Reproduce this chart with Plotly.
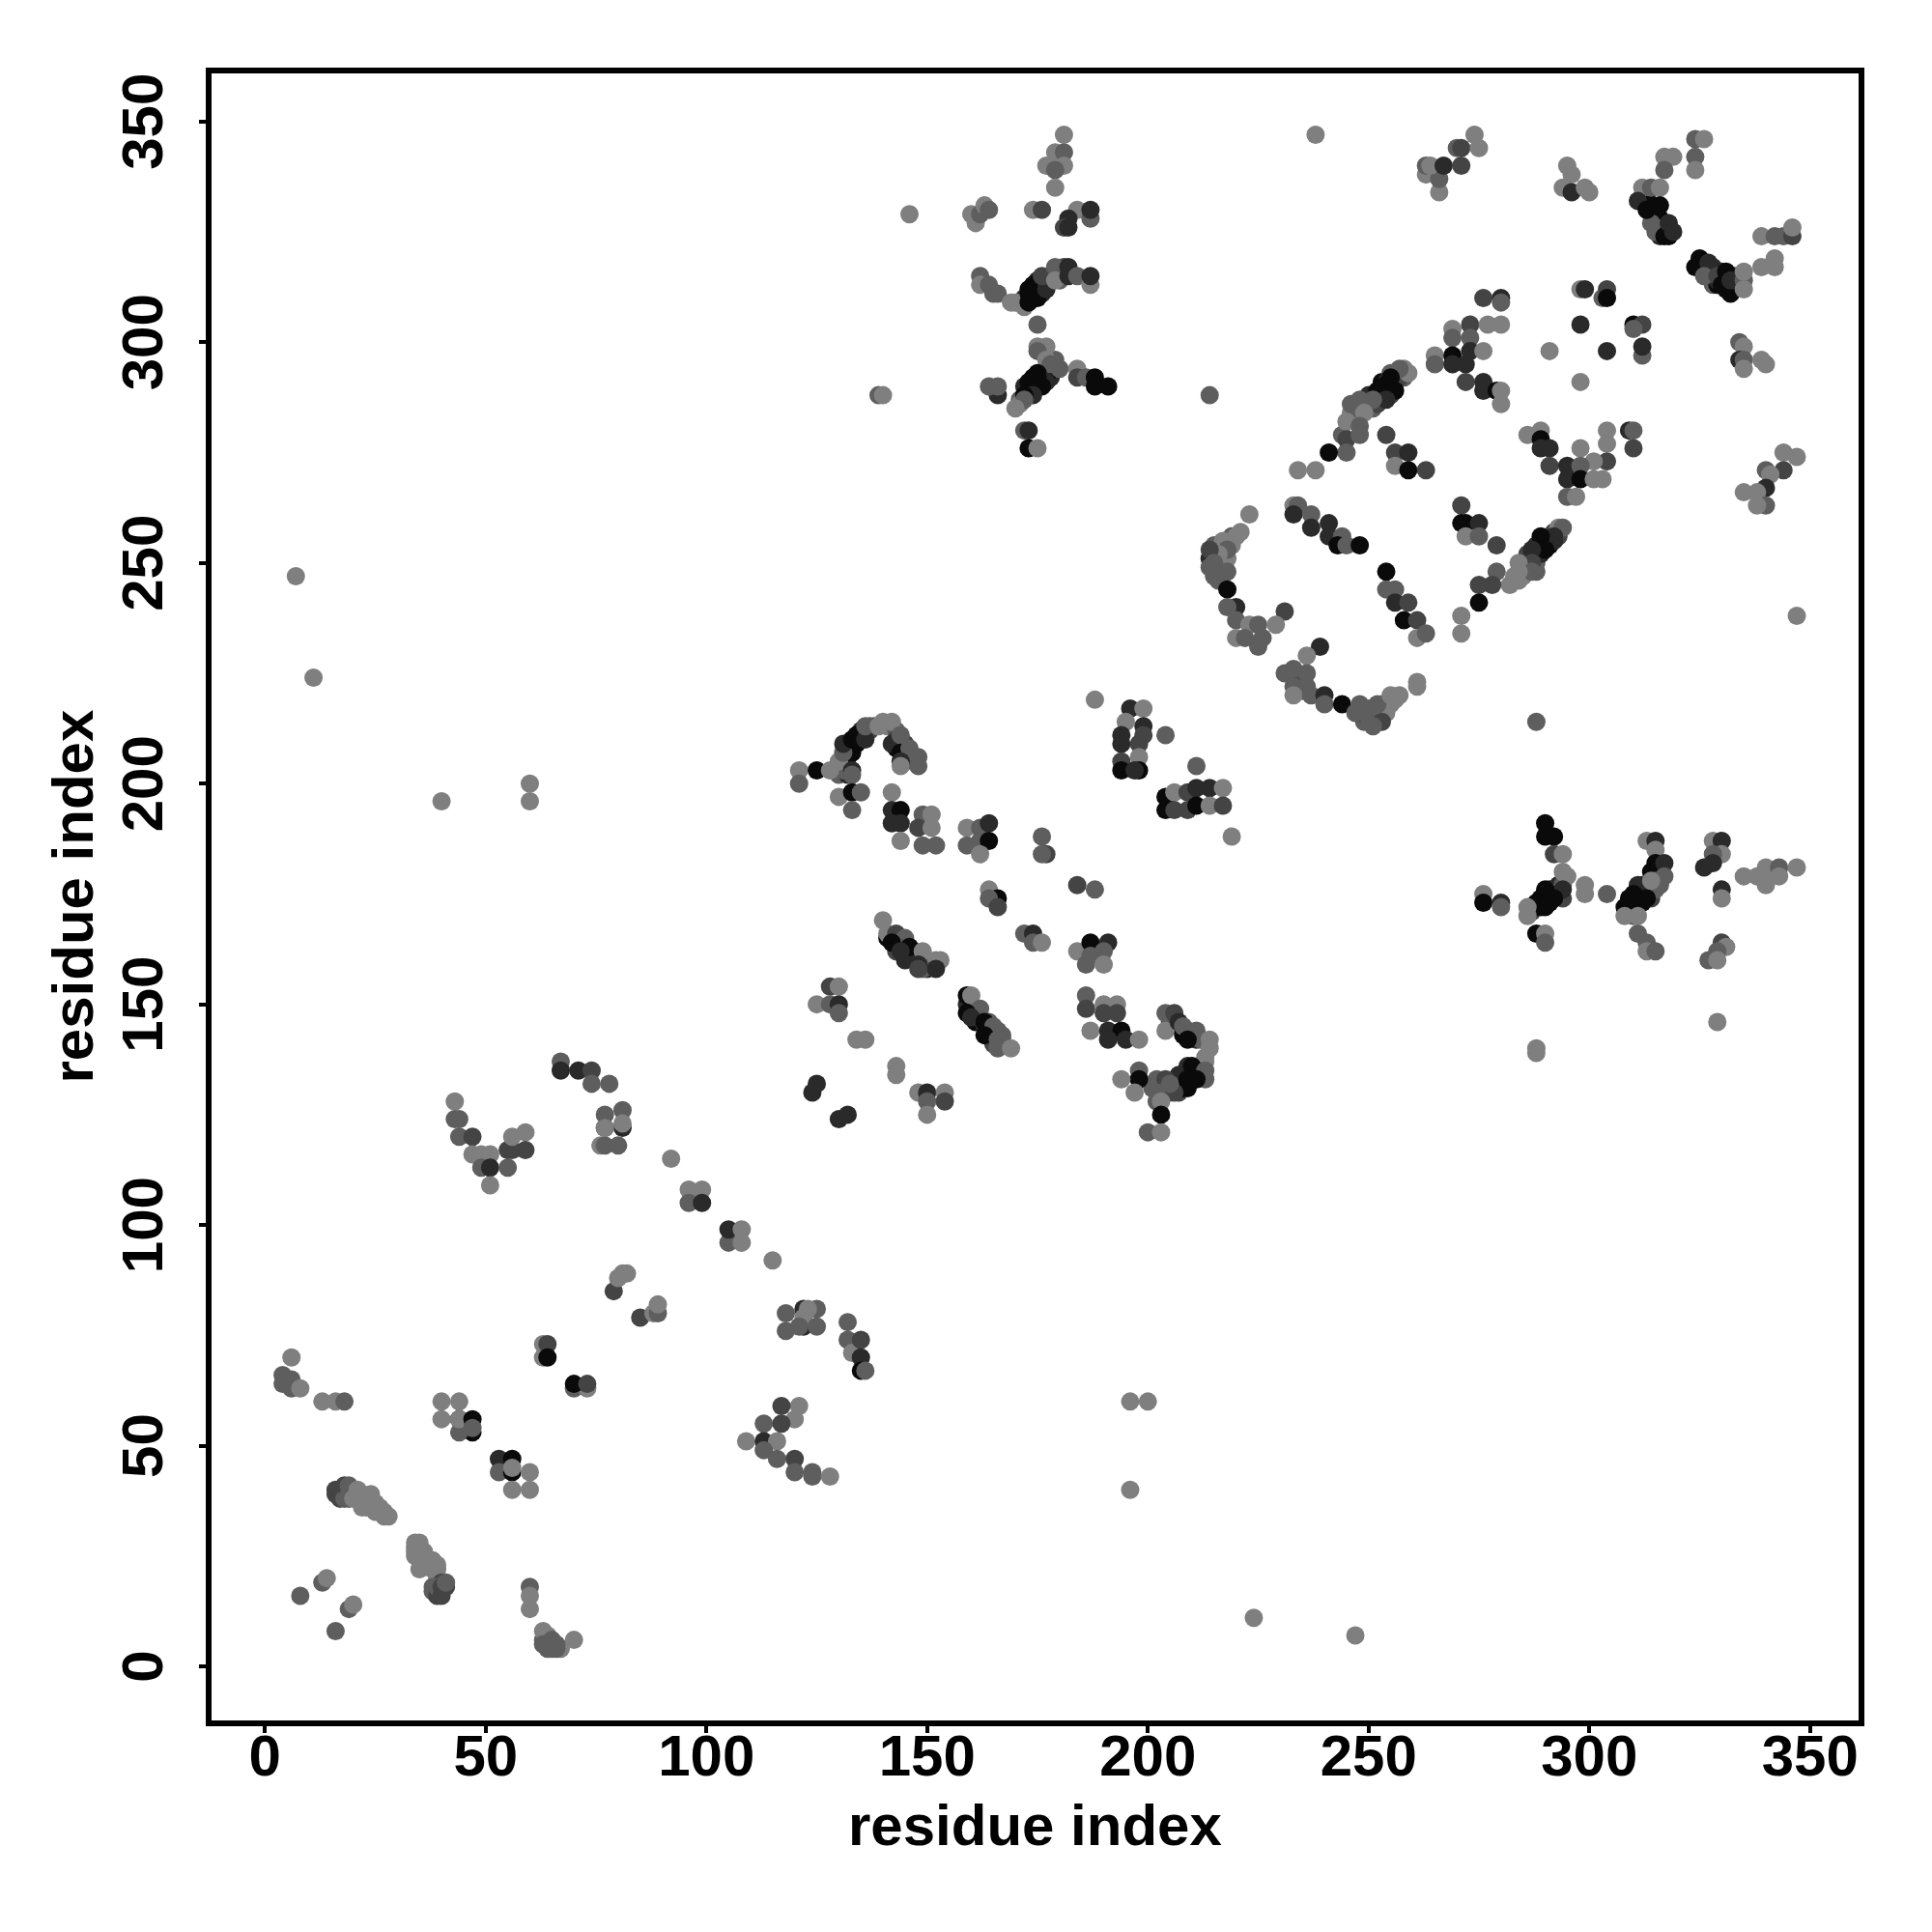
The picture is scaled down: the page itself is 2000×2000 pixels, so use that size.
import plotly.graph_objects as go

# Contact-map points: (residue i, residue j, shade level 0 light .. 4 black)
shade_levels = ["#7f7f7f", "#5e5e5e", "#444444", "#2a2a2a", "#0a0a0a"]
x_ticks = [0, 50, 100, 150, 200, 250, 300, 350]
y_ticks = [0, 50, 100, 150, 200, 250, 300, 350]
axis_title = "residue index"

dense_a = [(130,202,1),(130,204,2),(131,205,3),(132,204,2),(132,206,3),(132,208,4),(133,207,4),(134,209,4),(135,210,4),(135,212,3),(137,212,2),(137,213,1),(138,213,1),(141,213,0),(143,212,1),(143,210,2),(143,208,4),(144,209,3),(145,206,4),(145,209,2),(146,206,3),(147,206,2),(147,205,2),(132,202,3),(131,203,1),
 (141,165,4),(142,165,3),(143,164,4),(144,164,3),(145,163,4),(146,161,3),(147,161,4),(147,162,2),(148,160,3),(149,160,1),(150,160,1),(151,159,3),(150,158,3),(152,160,0),(149,158,1),(143,162,2),(145,160,3),
 (159,150,3),(160,149,4),(161,148,3),(161,146,4),(162,146,4),(162,147,2),(163,145,3),(164,145,2),(164,143,4),(164,146,1),(165,143,2),(165,142,3),(166,144,1),(167,143,1),(167,142,1),(165,141,2),
 (205,146,2),(206,146,3),(207,145,4),(208,143,4),(209,144,2),(210,143,3),(211,142,3),(212,142,1),(212,135,4),(211,135,4),(210,134,4),(209,131,4),(207,132,4),(207,134,3),(209,136,3),(213,138,0),(213,133,1),(201,131,1),(203,131,3),(203,130,2),(205,130,1),(207,130,2),(202,128,1),(203,132,2),(204,131,3)]
dense_b = [(283,247,0),(285,249,1),(286,250,0),(286,252,2),(288,250,1),(288,252,2),(288,254,3),(289,252,3),(290,254,4),(290,255,3),(291,254,4),(291,256,4),(292,257,2),(293,256,2),(288,248,1),(285,247,0),(284,246,0),(292,255,3),
 (244,279,1),(246,284,0),(246,286,1),(247,283,0),(247,285,1),(249,286,1),(250,285,0),(250,287,2),(250,288,3),(251,285,1),(252,286,2),(252,288,4),(252,289,4),(253,287,2),(253,291,4),(254,289,4),(254,290,4),(254,291,3),(255,290,4),(255,288,2),(256,291,3),(256,293,1),(258,292,1),(258,294,0),(257,292,2),(255,293,1),
 (215,254,1),(216,248,1),(216,250,2),(217,251,0),(217,249,1),(217,253,1),(218,251,0),(219,254,0),(219,255,0),(214,251,3),(214,249,1),(216,246,1),(219,256,1),(220,256,0),
 (233,224,1),(234,224,1),(235,224,2),(234,221,2),(235,221,1),(249,216,2),(249,214,1),(250,217,1),(251,216,3),(251,215,2),(252,214,2),(252,216,1),(253,216,1),(253,218,1),(254,216,0),(254,218,0),(255,218,0),(256,219,0),(249,217,1),(248,216,2)]
dense_c = [(172,310,3),(172,309,4),(173,312,4),(174,310,4),(174,311,4),(175,312,4),(175,314,3),(176,311,3),(176,313,2),(177,314,2),(178,315,1),(180,316,1),(181,317,2),(180,314,1),(171,309,1),
 (173,289,4),(173,288,3),(174,290,4),(174,292,4),(175,290,3),(176,293,3),(176,291,4),(177,294,2),(178,292,3),(179,296,1),(171,287,1),(171,286,0),(172,290,3),(177,292,4),
 (287,172,1),(289,173,4),(289,174,4),(289,172,4),(290,174,4),(291,173,4),(291,176,3),(292,176,4),(293,175,3),(293,177,3),(294,177,1),(294,174,2),(287,171,2),(291,175,4),
 (309,174,4),(309,172,4),(310,173,4),(312,173,4),(312,175,4),(312,177,3),(313,176,3),(313,177,2),(314,176,1),(309,171,2),(310,170,1),(314,174,2),(316,177,1),(316,180,1),(314,180,4),
 (312,333,3),(313,333,2),(313,332,4),(314,331,4),(314,329,4),(315,330,3),(315,328,4),(316,328,4),(316,326,2),(317,327,4),(317,326,3),(318,325,4),(318,324,4),(314,327,1),(316,324,3),(315,325,1),
 (325,317,4),(326,318,4),(326,316,2),(327,316,4),(328,317,3),(328,315,3),(328,313,1),(329,313,4),(329,314,3),(330,316,3),(331,314,3),(331,312,4),(332,312,4),(333,313,3),(333,315,2),
 (16,40,2),(17,39,2),(18,39,1),(18,40,2),(19,38,1),(19,40,1),(20,40,1),(21,38,0),(22,38,0),(22,39,0),(23,36,0),(24,38,0),(25,35,0),(26,36,0),(27,34,0),
 (34,27,0),(34,25,0),(35,27,0),(35,26,0),(36,26,0),(36,24,0),(37,23,0),(38,22,0),(39,22,0),(39,20,0),(38,17,1),(40,17,2),(39,17,3),(40,19,2),(41,18,2),
 (63,6,1),(64,5,1),(64,6,1),(64,7,0),(65,5,1),(67,4,0)]
outliers = [(7,247,0),(11,224,0),(40,196,0),(60,200,0),(60,196,0),(196,60,0),(200,60,0),(196,40,0),(224,11,0),(247,7,0),
 (146,329,0),(139,288,1),(140,288,0),(288,214,1),(214,288,1),(238,347,0),(347,238,0),(329,146,0),(288,140,0),(288,139,0),(92,115,0),(115,92,0),(188,219,0),(219,188,0),(304,175,1)]
cluster_a = [(6,70,0),(4,66,1),(4,64,1),(5,65,1),(6,63,1),(6,65,1),(8,63,0),(13,60,0),(16,60,0),(18,60,1),
 (8,16,1),(13,19,1),(14,20,0),(19,13,1),(20,14,0),(16,8,1)]
cluster_b = [(16,39,2),(17,38,2),(17,40,2),(18,38,1),(18,41,2),(19,39,1),(19,41,1),(20,38,0),(21,40,0),(22,36,0),(23,38,0),(24,39,0),(24,36,0),(25,37,0),(26,35,0),(27,35,0),(28,34,0),
 (34,28,0),(35,28,0),(34,26,0),(35,25,0),(35,22,0),(36,23,0),(38,24,0),(39,23,0),(38,18,1),(39,16,2),(39,18,1),(40,16,2),(40,18,2),(41,19,1),
 (60,18,1),(60,16,0),(60,13,0),(63,8,0),(63,5,1),(64,4,1),(65,6,1),(65,4,1),(66,5,1),(66,4,1),(70,6,0)]
cluster_c = [(44,56,4),(47,53,4),(44,53,1),(40,60,0),(40,56,0),(44,60,0),(44,56,0),(47,56,4),(47,54,1),
 (53,47,3),(53,44,1),(56,44,4),(56,47,4),(56,45,0),(56,40,0),(60,44,0),(60,40,0),
 (63,73,0),(63,70,0),(64,73,2),(64,70,4),(70,63,1),(73,63,0),(70,64,4),(73,64,2),
 (79,85,2),(80,88,0),(81,89,0),(82,89,0),(85,79,2),(88,80,0),(89,80,1),(89,82,0),
 (96,108,0),(99,108,0),(96,105,1),(99,105,3),(105,96,1),(105,99,3),(108,96,0),(108,99,0)]
cluster_d = [(118,80,1),(118,76,1),(122,77,3),(122,81,3),(122,79,0),(121,77,1),(125,81,1),(125,77,1),(123,81,0),
 (132,78,1),(132,74,1),(133,71,0),(135,74,2),(135,70,3),(135,67,4),(136,67,1),
 (121,59,0),(117,59,2),(120,56,0),(113,55,1),(117,55,2),(109,51,0),(113,51,3),(116,51,0),(113,49,1),(116,47,1),(120,47,2),(120,44,1),(124,43,1),(124,44,1),(128,43,0),
 (43,128,0),(43,124,1),(44,124,1),(44,120,1),(47,120,2),(47,116,0),(49,116,0),(51,116,0),(49,113,1),(51,113,3),(51,109,0),(55,113,1),(55,117,2),(56,117,2),(56,120,0),(59,121,0),(59,117,2),
 (67,137,1),(67,135,3),(71,135,3),(74,135,2),(74,132,1),(78,132,1),(77,125,1),(81,126,1),(77,122,3),(81,122,3),(76,118,0),(77,118,1),(80,118,1),(77,122,0),(81,123,0)]
cluster_e = [(121,203,0),(121,200,1),(125,203,4),(128,203,0),(130,205,0),(131,207,1),(131,209,3),(133,203,3),(133,202,1),(133,210,4),(134,211,4),(136,210,3),(136,213,1),(139,213,0),(140,214,0),(142,214,0),
 (142,209,3),(144,211,1),(144,207,4),(146,208,1),(144,205,3),(144,204,0),(148,206,1),(148,204,1),
 (130,197,0),(133,198,4),(135,198,1),(133,194,1),(142,198,0),(142,194,3),(144,194,4),(142,191,3),(144,191,3),(144,187,0),
 (149,193,1),(151,193,0),(148,190,2),(151,190,0),(149,186,1),(152,186,1),
 (159,190,0),(159,186,1),(162,190,1),(164,191,3),(162,187,1),(164,187,4),(162,184,0),(176,188,1),(177,184,2),(176,184,1),
 (164,176,0),(166,174,4),(164,174,1),(166,172,2),(184,177,2),(188,176,1),(172,166,1),(174,166,3),(174,164,1),(176,164,0)]
cluster_f = [(184,162,0),(187,164,4),(191,164,3),(187,161,1),(190,162,1),(186,159,1),(190,159,0),
 (140,169,0),(141,166,0),(143,166,2),(145,165,1),(142,164,4),(146,163,4),(149,162,0),(144,162,3),(148,159,3),(153,160,0),(152,158,3),(148,158,2),
 (159,152,4),(160,152,0),(162,149,1),(159,148,4),(160,147,3),(163,146,4),(165,145,1),(163,143,4),(166,142,1),(166,140,1),(169,140,0),
 (186,152,1),(186,149,2),(190,150,0),(193,150,0),(190,148,2),(193,148,2),
 (187,144,0),(191,144,3),(194,144,4),(191,142,3),(195,142,3),(198,142,0),
 (204,148,1),(206,148,2),(204,144,0),(207,146,3),(208,145,1),(211,144,1),(209,142,4),(214,142,0),(214,140,0),(213,137,0),(210,136,4),(213,135,1),(209,133,4),(211,133,4),(208,131,4),(206,130,2),
 (202,133,1),(204,133,2),(202,130,1),(205,132,1),(198,135,1),(198,133,4),(194,133,0),(197,130,0),(203,128,0),(203,125,4),(200,121,1),(203,121,0)]
cluster_g = [(128,154,2),(130,154,0),(125,150,0),(128,150,1),(130,150,3),(130,148,1),(134,142,0),(136,142,0),(143,136,0),(143,134,0),(125,132,3),(124,130,3),(132,125,3),(130,124,3),
 (148,130,0),(150,130,3),(154,130,0),(154,128,2),(150,128,1),(150,125,0)]
cluster_h = [(196,217,3),(199,217,0),(195,214,0),(199,213,3),(194,211,3),(199,211,2),(194,209,3),(198,209,2),(194,205,2),(198,206,0),(194,203,4),(198,203,4),(197,203,3),
 (204,211,1),(211,204,1),(204,197,4),(204,194,4),(206,198,0),(206,194,2),(209,198,2),(209,194,2),(211,199,3),(211,195,4),(214,199,3),(214,195,0),(217,199,0),(217,195,2)]
cluster_i = [(276,310,2),(280,310,3),(280,309,1),(298,312,0),(299,312,3),(303,310,1),(304,312,2),(304,310,4),(298,304,3),(310,304,4),(312,304,2),(310,303,1),(304,298,3),(291,298,0),(312,297,1),(312,299,3),(298,291,0),
 (269,303,0),(269,301,1),(273,304,2),(277,304,0),(280,304,0),(273,301,1),(265,297,0),(265,295,1),(269,297,4),(269,295,3),(272,295,3),(273,298,3),(276,298,0),(272,291,2),(276,291,3),(276,289,3),(279,289,4),(280,289,0),(280,286,0)]
cluster_j = [(259,293,0),(257,294,1),(255,292,4),(253,290,4),(256,289,4),(254,287,3),(251,287,1),(248,287,1),(249,284,0),(245,282,0),(248,281,1),(245,278,2),(248,279,1),(245,275,1),(241,275,4),(234,271,0),(238,271,0),
 (254,279,2),(256,275,2),(259,275,3),(256,272,0),(259,271,4),(263,271,2),
 (286,279,0),(289,280,0),(289,278,4),(289,276,3),(291,276,3),(291,272,2),(295,272,3),(298,276,0),(304,280,0),(309,280,3),(310,280,1),(310,276,2),(304,277,0),(304,273,2),(301,273,0),(298,272,1),(295,269,3),(298,269,4),(301,269,0),(303,269,0),(295,265,1),(297,265,0)]
cluster_k = [(293,258,0),(294,258,1),(292,256,3),(289,256,4),(290,253,4),(287,253,3),(287,250,2),(284,250,0),(287,248,1),(284,248,0),(279,248,1),(282,245,0),(278,245,2),(275,245,2),(275,241,4),(271,238,0),(271,234,0),
 (271,263,2),(271,259,4),(272,259,4),(275,259,3),(272,256,0),(275,256,1),(279,254,2),
 (233,263,0),(234,263,1),(233,261,3),(237,261,1),(237,258,3),(241,259,3),(241,256,3),(244,256,1),(243,254,4),(245,254,1),(248,254,4),
 (254,248,4),(254,244,1),(256,244,1),(256,241,3),(259,241,2),(258,237,4),(261,237,2),(261,233,0),(263,234,1)]
cluster_l = [(223,261,0),(221,257,0),(217,255,0),(218,253,1),(216,252,0),(214,253,2),(215,250,1),(218,248,1),(215,247,1),(218,244,4),(220,240,3),(218,240,1),(231,239,2),(220,237,1),(223,236,0),(225,236,1),(229,236,0),(220,233,0),(222,233,1),(226,233,1),(225,231,1),
 (239,231,3),(236,229,0),(233,226,1),(231,225,1),(236,225,1),(233,222,1),(236,222,1),(233,220,0),(237,220,1),(240,220,3),(240,218,1),(244,218,4),(248,218,1),(247,216,1),(250,215,1),(253,214,2),(251,213,1),(252,218,1),(255,220,0),(257,220,0),(261,223,0),(261,222,0)]
cluster_m = [(181,347,0),(179,343,0),(181,343,1),(177,340,0),(181,340,0),(179,339,1),(179,335,0),
 (160,329,0),(161,327,0),(162,329,1),(163,331,0),(164,330,1),(174,330,0),(176,330,2),(184,330,0),(187,328,1),(187,330,3),(182,328,3),(181,326,2),(182,326,3),
 (162,315,1),(162,313,0),(164,313,1),(165,311,1),(166,311,1),(170,309,0),(169,309,0),(172,308,0),(173,309,4),(173,311,4),(174,313,4),(175,310,4),(177,312,3),(176,315,2),(179,317,1),(179,314,0),(182,317,3),(182,315,3),(184,315,1),(187,313,0),(187,315,3),
 (175,304,1),(175,299,0),(177,299,0),(175,298,1),(177,296,0),(180,294,1),(178,295,1),(175,293,4),(177,291,3),(175,292,4),(173,291,4),(176,290,4),(174,288,3),(172,288,4),(172,287,1),(170,285,0),
 (166,288,3),(164,290,1),(166,290,1),(184,294,0),(184,292,2),(186,292,1),(188,292,4),(188,290,4),(191,290,4),(172,280,1),(173,280,3),(173,276,4),(175,276,0)]
cluster_n = [(324,346,1),(326,346,0),(324,342,1),(324,339,0),(317,342,0),(319,342,0),(317,339,1),
 (295,340,0),(296,338,0),(294,335,0),(296,334,3),(299,335,0),(300,334,0),
 (312,335,0),(314,335,1),(316,335,0),(311,332,3),(313,330,4),(316,331,4),(315,326,1),(317,324,4),(318,327,3),(319,325,3),
 (325,319,4),(324,317,4),(327,318,3),(326,315,1),(329,315,2),(331,316,4),(330,313,4),(332,311,4),(332,314,3),(335,314,1),(335,316,0),(335,312,0),
 (339,317,0),(342,319,0),(342,317,0),(339,324,0),(342,324,1),(344,324,1),(346,324,2),(346,326,0),
 (334,300,1),(335,299,0),(334,296,3),(335,296,1),(335,294,0),(339,296,0),(340,295,0),
 (344,275,0),(347,274,0),(344,271,2),(340,271,1),(341,270,0),(340,267,3),(335,266,0),(338,266,0),(340,263,1),(338,263,0),
 (266,334,0),(263,338,0),(266,337,1),(263,340,1),(264,340,0),(267,340,3),(271,340,2),(270,344,1),(271,344,2),(275,344,0),(274,347,0)]
cluster_o = [(290,191,4),(290,188,4),(292,188,4),(292,184,2),(294,184,0),(294,180,0),(295,179,0),(294,176,3),(290,176,4),(292,174,4),(288,173,4),(288,172,4),(290,172,4),(286,172,0),(286,170,0),(299,177,0),(299,175,0),
 (276,175,0),(276,173,4),(280,173,3),(280,172,1),(288,166,4),(290,166,0),(290,164,1),
 (313,187,0),(315,187,3),(315,185,0),(315,182,4),(317,182,3),(315,178,1),(317,179,1),(315,176,1),(311,177,3),(314,178,0),(310,175,4),(311,174,4),(313,174,4),(308,172,4),(310,171,4),(308,170,0),(311,170,0),
 (311,166,1),(313,164,1),(313,162,0),(315,162,1),
 (328,187,0),(330,187,3),(330,184,0),(328,184,1),(326,181,3),(328,182,3),(330,176,3),(330,174,0),
 (335,179,0),(338,179,0),(340,181,0),(340,179,0),(340,177,0),(343,181,1),(343,179,0),(347,181,0),
 (330,164,2),(331,163,0),(329,162,1),(327,160,1),(329,160,0)]

clusters = [dense_a, dense_b, dense_c, outliers, cluster_a, cluster_b, cluster_c, cluster_d, cluster_e, cluster_f, cluster_g,
            cluster_h, cluster_i, cluster_j, cluster_k, cluster_l, cluster_m, cluster_n, cluster_o]
points = [p for c in clusters for p in c]

fig = go.Figure(go.Scatter(
    x=[p[0] for p in points], y=[p[1] for p in points], mode="markers",
    marker=dict(size=19, color=[shade_levels[p[2]] for p in points], line=dict(width=0)),
    hoverinfo="skip"))

font = dict(family="Liberation Sans", size=60, color="black", weight=700)
axis = dict(showline=True, mirror=True, linecolor="black", linewidth=6, showgrid=False, zeroline=False,
            ticks="outside", ticklen=7, tickwidth=4, tickcolor="black", tickfont=font)
fig.update_xaxes(range=[-12.1, 361.0], tickvals=x_ticks, ticklabelstandoff=-28, **axis)
fig.update_yaxes(range=[-12.25, 360.9], tickvals=y_ticks, tickangle=-90, ticklabelstandoff=14, ticklabelshift=9, **axis)
fig.add_annotation(text=axis_title, font=font, showarrow=False, xref="paper", yref="paper", x=0.5, y=0,
                   xanchor="center", yanchor="middle", yshift=-108)
fig.add_annotation(text=axis_title, font=font, showarrow=False, textangle=-90, xref="paper", yref="paper", x=0, y=0.5,
                   xanchor="center", yanchor="middle", xshift=-144)
fig.update_layout(width=1984, height=1984, autosize=False, showlegend=False, plot_bgcolor="white", paper_bgcolor="white",
                  margin=dict(l=211, r=68, t=68, b=211, autoexpand=False))
fig.write_html("out.html")
